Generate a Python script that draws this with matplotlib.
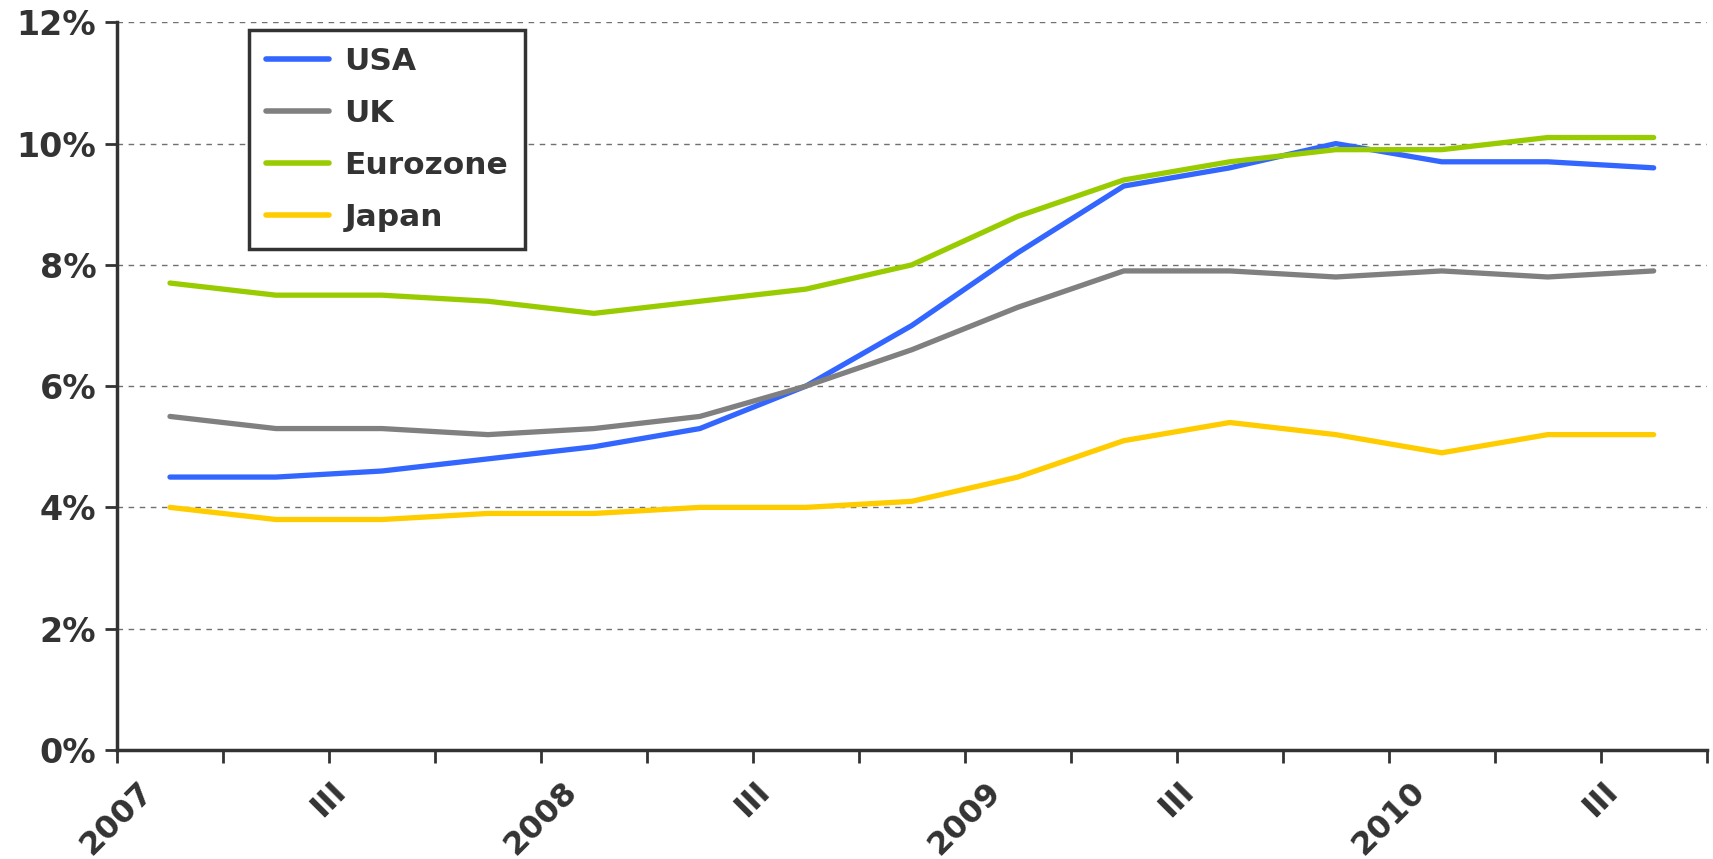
import numpy as np
import matplotlib.pyplot as plt
from matplotlib.ticker import FixedLocator, FuncFormatter

# quarterly unemployment rates, 2007 Q1 .. 2010 Q3
usa = [4.5, 4.5, 4.6, 4.8, 5.0, 5.3, 6.0, 7.0, 8.2, 9.3, 9.6, 10.0, 9.7, 9.7, 9.6]
uk = [5.5, 5.3, 5.3, 5.2, 5.3, 5.5, 6.0, 6.6, 7.3, 7.9, 7.9, 7.8, 7.9, 7.8, 7.9]
eurozone = [7.7, 7.5, 7.5, 7.4, 7.2, 7.4, 7.6, 8.0, 8.8, 9.4, 9.7, 9.9, 9.9, 10.1, 10.1]
japan = [4.0, 3.8, 3.8, 3.9, 3.9, 4.0, 4.0, 4.1, 4.5, 5.1, 5.4, 5.2, 4.9, 5.2, 5.2]
period_labels = ["2007", "III", "2008", "III", "2009", "III", "2010", "III"]

txt = "#333333"
plt.rcParams['font.family'] = ['DejaVu Sans']

fig = plt.figure(figsize=(17.13, 8.59), dpi=100)
ax = fig.add_axes([0.0683, 0.127, 0.928, 0.847])

x = np.arange(len(usa))
ax.plot(x, usa, color="#3366ff", lw=3.8, label="USA", solid_capstyle="round")
ax.plot(x, uk, color="#808080", lw=3.8, label="UK", solid_capstyle="round")
ax.plot(x, eurozone, color="#99cc00", lw=3.8, label="Eurozone", solid_capstyle="round")
ax.plot(x, japan, color="#ffcc00", lw=3.8, label="Japan", solid_capstyle="round")

ax.set_xlim(-0.5, len(usa) - 0.5)
ax.set_ylim(0, 12)
ax.set_yticks(np.arange(0, 13, 2))
ax.yaxis.set_major_formatter(FuncFormatter(lambda v, p: f"{v:.0f}%"))
ax.yaxis.grid(True, linestyle=(0, (4, 4)), color="#707070", lw=1)
ax.set_axisbelow(True)

# category boundaries as ticks, label every second one
edges = np.arange(-0.5, len(usa), 1.0)
ax.xaxis.set_major_locator(FixedLocator(edges))
ax.set_xticklabels([period_labels[i // 2] if i % 2 == 0 and i // 2 < len(period_labels) else ""
                    for i in range(len(edges))],
                   rotation=45, ha="center", fontsize=23, fontweight="bold", color=txt)

for lab in ax.get_yticklabels():
    lab.set_fontsize(24)
    lab.set_fontweight("bold")
    lab.set_color(txt)

for s in ["top", "right"]:
    ax.spines[s].set_visible(False)
for s in ["left", "bottom"]:
    ax.spines[s].set_color(txt)
    ax.spines[s].set_linewidth(2.5)
ax.tick_params(axis="both", color=txt, width=2, length=9)
ax.tick_params(axis="x", pad=10)
ax.tick_params(axis="y", pad=6)

leg = ax.legend(loc="upper left", bbox_to_anchor=(0.083, 0.99), borderaxespad=0,
                frameon=True, fancybox=False, framealpha=1,
                prop={"weight": "bold", "size": 22.5}, labelcolor=txt,
                handlelength=2.0, handletextpad=0.5, labelspacing=0.74, borderpad=0.55)
leg.get_frame().set_edgecolor(txt)
leg.get_frame().set_linewidth(2.5)
for h in leg.get_lines():
    h.set_linewidth(4.0)

fig.savefig("out.png", dpi=100)
